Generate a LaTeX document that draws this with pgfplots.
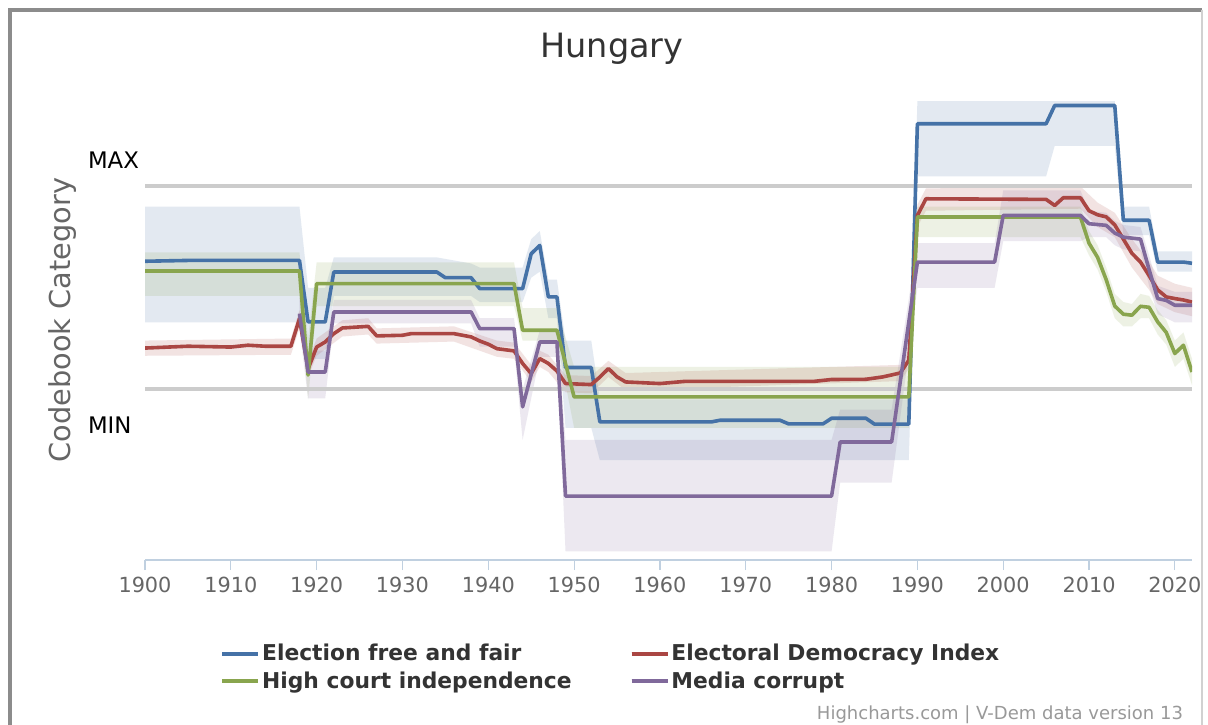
\documentclass[border=0pt]{standalone}
\usepackage{fontspec}
\setmainfont{DejaVu Sans}
\usepackage{pgfplots}
\pgfplotsset{compat=1.18}
\definecolor{cblue}{HTML}{4572A7}
\definecolor{cred}{HTML}{AA4643}
\definecolor{cgreen}{HTML}{89A54E}
\definecolor{cpurple}{HTML}{80699B}
\definecolor{cgrid}{HTML}{CCCCCC}
\definecolor{caxis}{HTML}{C0D0E0}
\definecolor{c333}{HTML}{333333}
\definecolor{c666}{HTML}{666666}
\definecolor{c999}{HTML}{999999}
\definecolor{cframe}{HTML}{8C8C8C}
\begin{document}
\begin{tikzpicture}
\useasboundingbox (0,0) rectangle (604pt,362pt);
\fill[white] (0,0) rectangle (604pt,362pt);
\draw[line width=2pt, color=cframe] (5pt,-2pt) -- (5pt,357pt) -- (601pt,357pt);
\draw[line width=1pt, color=cframe!40] (601pt,357pt) -- (601pt,-2pt);
\node[anchor=base, font=\fontsize{16.75}{20}\selectfont, text=c333] at (306pt,333pt) {Hungary};
\node[rotate=90, anchor=base, font=\fontsize{14.4}{17}\selectfont, text=c666] at (35pt,202pt) {Codebook Category};
\node[anchor=base east, font=\fontsize{9}{10}\selectfont, text=c999] at (595pt,2.5pt) {Highcharts.com | V-Dem data version 13};
\begin{axis}[
  at={(72.5pt,82pt)}, anchor=south west, scale only axis,
  width=523.5pt, height=237.5pt,
  xmin=1900, xmax=2022, ymin=-0.842, ymax=1.5,
  axis x line*=bottom, axis y line*=left,
  x axis line style={-, color=caxis, line width=0.9pt},
  y axis line style={draw=none},
  xtick={1900,1910,...,2020}, xtick align=outside, major tick length=5pt,
  xtick style={color=caxis, line width=0.6pt},
  /pgf/number format/assume math mode=true,
  /pgf/number format/1000 sep={},
  xticklabel style={font=\fontsize{10.4}{12}\selectfont, text=c666, anchor=north},
  ytick={-0.177,1.128}, yticklabels={MIN,MAX},
  ytick style={draw=none},
  yticklabel style={anchor=west, xshift=-32pt, font=\fontsize{11.4}{13}\selectfont, text=black},
  legend columns=2,
  legend cell align=left,
  legend image code/.code={\draw[#1, line width=2pt] (0pt,0pt) -- (15pt,0pt); \path (0pt,0pt) -- (18pt,0pt);},
  legend style={at={(0.0716,-0.2263)}, anchor=west, draw=none, fill=none, inner sep=0pt,
    font=\bfseries\fontsize{10.9}{13}\selectfont, text=c333, row sep=2pt,
    nodes={inner sep=1pt},
    /tikz/every even column/.append style={column sep=28pt}},
]
% ---- confidence bands ----
\addplot[forget plot, draw=none, fill=cblue, fill opacity=0.15] coordinates {
(1900,0.90)(1918,0.90)(1919,0.50)(1921,0.50)(1922,0.65)(1934,0.65)(1938,0.62)(1939,0.60)(1944,0.60)(1945,0.74)(1946,0.78)(1947,0.54)(1948,0.54)(1949,0.24)(1952,0.24)(1953,-0.05)(1989,-0.05)(1990,1.42)(2013,1.42)(2014,0.90)(2017,0.90)(2018,0.68)(2022,0.68)
(2022,0.58)(2018,0.58)(2017,0.76)(2014,0.76)(2013,1.20)(2006,1.20)(2005,1.05)(1990,1.05)(1989,-0.35)(1953,-0.35)(1952,-0.19)(1949,-0.19)(1948,0.35)(1947,0.35)(1946,0.58)(1945,0.55)(1944,0.43)(1939,0.43)(1938,0.46)(1922,0.46)(1921,0.15)(1919,0.15)(1918,0.33)(1900,0.33)} -- cycle;
\addplot[forget plot, draw=none, fill=cred, fill opacity=0.15] coordinates {
(1900,0.24)(1917,0.25)(1918,0.39)(1919,0.14)(1920,0.25)(1923,0.34)(1926,0.35)(1927,0.30)(1936,0.31)(1941,0.24)(1943,0.23)(1945,0.12)(1946,0.19)(1947,0.17)(1949,0.07)(1952,0.065)(1954,0.14)(1956,0.08)(1988,0.12)(1989,0.19)(1990,0.91)(1991,0.99)(2009,1.00)(2011,0.92)(2013,0.87)(2015,0.74)(2017,0.63)(2018,0.56)(2020,0.52)(2022,0.50)
(2022,0.36)(2020,0.38)(2018,0.42)(2017,0.49)(2015,0.60)(2013,0.75)(2011,0.80)(2009,0.89)(1991,0.88)(1990,0.80)(1989,0.10)(1988,0.04)(1956,-0.005)(1954,0.06)(1952,-0.02)(1949,-0.015)(1947,0.085)(1946,0.11)(1945,0.035)(1943,0.15)(1941,0.16)(1936,0.235)(1927,0.225)(1926,0.27)(1923,0.26)(1920,0.165)(1919,0.06)(1918,0.30)(1917,0.17)(1900,0.165)} -- cycle;
\addplot[forget plot, draw=none, fill=cgreen, fill opacity=0.15] coordinates {
(1900,0.675)(1918,0.675)(1919,0.25)(1920,0.625)(1943,0.625)(1944,0.40)(1948,0.40)(1950,0.11)(1989,0.11)(1990,0.90)(2009,0.90)(2010,0.78)(2011,0.71)(2012,0.60)(2013,0.47)(2014,0.43)(2015,0.42)(2016,0.47)(2017,0.46)(2018,0.39)(2019,0.34)(2020,0.24)(2021,0.28)(2022,0.15)
(2022,0.02)(2021,0.15)(2020,0.11)(2019,0.22)(2018,0.27)(2017,0.35)(2016,0.35)(2015,0.31)(2014,0.31)(2013,0.35)(2012,0.48)(2011,0.59)(2010,0.66)(2009,0.75)(1990,0.75)(1989,-0.19)(1950,-0.19)(1948,0.24)(1944,0.24)(1943,0.41)(1920,0.41)(1919,-0.05)(1918,0.46)(1900,0.46)} -- cycle;
\addplot[forget plot, draw=none, fill=cpurple, fill opacity=0.15] coordinates {
(1918,0.45)(1919,0.19)(1921,0.19)(1922,0.44)(1938,0.44)(1939,0.35)(1943,0.35)(1944,0.0)(1946,0.29)(1948,0.29)(1949,-0.25)(1980,-0.25)(1981,-0.10)(1987,-0.10)(1990,0.72)(1999,0.72)(2000,0.98)(2009,0.98)(2010,0.88)(2012,0.87)(2013,0.83)(2014,0.81)(2016,0.80)(2017,0.66)(2018,0.51)(2020,0.48)(2022,0.48)
(2022,0.33)(2020,0.33)(2018,0.37)(2017,0.51)(2016,0.68)(2014,0.69)(2013,0.71)(2012,0.75)(2010,0.75)(2009,0.73)(2000,0.73)(1999,0.50)(1990,0.50)(1987,-0.46)(1981,-0.46)(1980,-0.80)(1949,-0.80)(1948,0.16)(1946,0.16)(1944,-0.25)(1943,0.21)(1939,0.21)(1938,0.325)(1922,0.325)(1921,-0.045)(1919,-0.045)(1918,0.30)} -- cycle;
% ---- MAX / MIN reference lines ----
\addplot[forget plot, color=cgrid, line width=2pt] coordinates {(1900,1)(2022,1)};
\addplot[forget plot, color=cgrid, line width=2pt] coordinates {(1900,0)(2022,0)};
% ---- series ----
\addplot[cblue, line width=1.8pt, line join=round] coordinates {
(1900,0.631)(1905,0.635)(1918,0.635)(1919,0.332)(1921,0.332)(1922,0.578)(1934,0.578)(1935,0.55)(1938,0.55)(1939,0.496)(1944,0.496)(1945,0.668)(1946,0.709)(1947,0.455)(1948,0.455)(1949,0.107)(1952,0.107)(1953,-0.161)(1966,-0.161)(1967,-0.153)(1974,-0.153)(1975,-0.171)(1979,-0.171)(1980,-0.143)(1984,-0.143)(1985,-0.172)(1989,-0.172)(1990,1.309)(2005,1.309)(2006,1.399)(2013,1.399)(2014,0.833)(2017,0.833)(2018,0.627)(2021,0.627)(2022,0.621)};
\addlegendentry{Election free and fair}
\addplot[cred, line width=1.8pt, line join=round] coordinates {
(1900,0.203)(1905,0.212)(1910,0.208)(1912,0.217)(1914,0.212)(1917,0.212)(1918,0.348)(1919,0.10)(1920,0.208)(1921,0.233)(1922,0.274)(1923,0.302)(1926,0.31)(1927,0.263)(1930,0.266)(1931,0.274)(1936,0.274)(1938,0.258)(1939,0.238)(1940,0.222)(1941,0.20)(1943,0.189)(1944,0.127)(1945,0.077)(1946,0.151)(1947,0.127)(1948,0.09)(1949,0.028)(1952,0.023)(1953,0.06)(1954,0.102)(1955,0.061)(1956,0.036)(1960,0.028)(1963,0.039)(1978,0.039)(1980,0.048)(1984,0.049)(1986,0.061)(1988,0.08)(1989,0.143)(1990,0.857)(1991,0.939)(2005,0.936)(2006,0.906)(2007,0.944)(2009,0.944)(2010,0.88)(2011,0.86)(2012,0.85)(2013,0.81)(2014,0.74)(2015,0.67)(2016,0.627)(2017,0.56)(2018,0.49)(2019,0.455)(2020,0.447)(2021,0.44)(2022,0.43)};
\addlegendentry{Electoral Democracy Index}
\addplot[cgreen, line width=1.8pt, line join=round] coordinates {
(1900,0.583)(1918,0.583)(1919,0.07)(1920,0.521)(1943,0.521)(1944,0.291)(1948,0.291)(1950,-0.038)(1989,-0.038)(1990,0.849)(2009,0.849)(2010,0.72)(2011,0.65)(2012,0.54)(2013,0.41)(2014,0.37)(2015,0.365)(2016,0.409)(2017,0.404)(2018,0.332)(2019,0.28)(2020,0.176)(2021,0.217)(2022,0.085)};
\addlegendentry{High court independence}
\addplot[cpurple, line width=1.8pt, line join=round] coordinates {
(1918,0.373)(1919,0.085)(1921,0.085)(1922,0.381)(1938,0.381)(1939,0.299)(1943,0.299)(1944,-0.087)(1946,0.233)(1948,0.233)(1949,-0.527)(1980,-0.527)(1981,-0.26)(1987,-0.26)(1990,0.627)(1999,0.627)(2000,0.857)(2009,0.857)(2010,0.816)(2012,0.808)(2013,0.77)(2014,0.75)(2016,0.74)(2017,0.59)(2018,0.447)(2019,0.438)(2020,0.414)(2022,0.414)};
\addlegendentry{Media corrupt}
\end{axis}
\end{tikzpicture}
\end{document}
